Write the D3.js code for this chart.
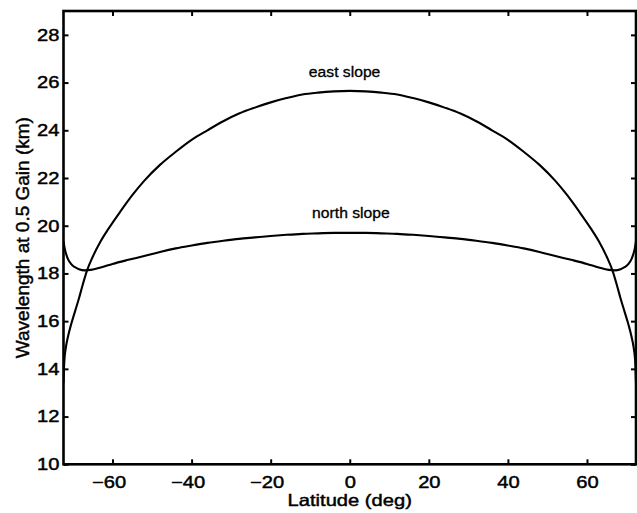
<!DOCTYPE html>
<html>
<head>
<meta charset="utf-8">
<script src="https://cdn.jsdelivr.net/npm/d3@7"></script>
<style>
  html, body { margin: 0; padding: 0; background: #fff; }
  svg { display: block; font-family: "Liberation Sans", Arial, Helvetica, sans-serif; }
  svg text { stroke: #000; stroke-width: 0.45px; }
</style>
</head>
<body>
<svg id="chart" width="637" height="513"></svg>
<script>
// Latitude (deg) and wavelength at 0.5 gain (km) for the east-slope case
const latEast = [-72.4, -72.2, -71.8, -71.2, -70.5, -69.5, -68.5, -67.5, -66.5, -65, -63, -61, -58, -55, -52, -48, -44, -40, -36, -32, -28, -24, -20, -16, -12, -8, -4, 0,
                 4, 8, 12, 16, 20, 24, 28, 32, 36, 40, 44, 48, 52, 55, 58, 61, 63, 65, 66.5, 67.5, 68.5, 69.5, 70.5, 71.2, 71.8, 72.2, 72.4];
const eastSlope = [13.4, 14.3, 14.9, 15.4, 15.85, 16.4, 16.95, 17.55, 18.1, 18.7, 19.35, 19.88, 20.6, 21.28, 21.88, 22.55, 23.1, 23.6, 24.0, 24.38, 24.7, 24.95, 25.17, 25.35, 25.5, 25.58, 25.63, 25.65,
                   25.63, 25.58, 25.5, 25.35, 25.17, 24.95, 24.7, 24.38, 24.0, 23.6, 23.1, 22.55, 21.88, 21.28, 20.6, 19.88, 19.35, 18.7, 18.1, 17.55, 16.95, 16.4, 15.85, 15.4, 14.9, 14.3, 13.4];

// Same quantity for the north-slope case
const latNorth = [-72.4, -72.1, -71.7, -71.2, -70.5, -69.5, -68.5, -67, -65.5, -63, -60, -56, -52, -48, -44, -40, -36, -32, -28, -24, -20, -16, -12, -8, -4, 0,
                  4, 8, 12, 16, 20, 24, 28, 32, 36, 40, 44, 48, 52, 56, 60, 63, 65.5, 67, 68.5, 69.5, 70.5, 71.2, 71.7, 72.1, 72.4];
const northSlope = [19.35, 19.05, 18.8, 18.58, 18.4, 18.26, 18.18, 18.13, 18.15, 18.25, 18.4, 18.57, 18.73, 18.9, 19.05, 19.17, 19.28, 19.37, 19.45, 19.51, 19.57, 19.62, 19.66, 19.68, 19.7, 19.7,
                    19.7, 19.68, 19.66, 19.62, 19.57, 19.51, 19.45, 19.37, 19.28, 19.17, 19.05, 18.9, 18.73, 18.57, 18.4, 18.25, 18.15, 18.13, 18.18, 18.26, 18.4, 18.58, 18.8, 19.05, 19.35];

const xTicks = [-60, -40, -20, 0, 20, 40, 60];
const yTicks = [10, 12, 14, 16, 18, 20, 22, 24, 26, 28];

const curveLabels = [
  { text: "east slope",  lat: -1.3, value: 26.22 },
  { text: "north slope", lat: 0.3,  value: 20.32 }
];

const svg = d3.select("#chart");
const plotLeft = 63.5, plotRight = 636, plotTop = 11, plotBottom = 464.3;

const x = d3.scaleLinear().domain([-72.4, 72.4]).range([plotLeft, plotRight]);
const y = d3.scaleLinear().domain([10, 29]).range([plotBottom, plotTop]);

// widen glyphs horizontally, like the original typeface
function stretch(sel, k) {
  sel.each(function () {
    const w = this.getComputedTextLength();
    d3.select(this).attr("textLength", w * k).attr("lengthAdjust", "spacingAndGlyphs");
  });
}

svg.append("defs").append("clipPath").attr("id", "plot")
  .append("rect").attr("x", plotLeft).attr("y", plotTop)
  .attr("width", plotRight - plotLeft).attr("height", plotBottom - plotTop);

// curves
const line = d3.line().curve(d3.curveMonotoneX);
const g = svg.append("g").attr("clip-path", "url(#plot)");
g.append("path")
  .attr("d", line(latEast.map((d, i) => [x(d), y(eastSlope[i])])))
  .attr("fill", "none").attr("stroke", "#000").attr("stroke-width", 2.1);
g.append("path")
  .attr("d", line(latNorth.map((d, i) => [x(d), y(northSlope[i])])))
  .attr("fill", "none").attr("stroke", "#000").attr("stroke-width", 2.1);

// axes with inward ticks on all four sides
const tickStyle = sel => {
  sel.select(".domain").remove();
  sel.selectAll(".tick line").attr("stroke", "#000").attr("stroke-width", 2);
  sel.selectAll(".tick text").attr("fill", "#000").style("font-size", "16.5px");
};

const gx = svg.append("g").attr("transform", `translate(0,${plotBottom})`)
  .call(d3.axisBottom(x).tickValues(xTicks).tickSizeInner(-5).tickSizeOuter(0).tickPadding(12))
  .call(tickStyle);
gx.selectAll(".tick text").filter(d => d < 0).attr("dx", -4);

svg.append("g").attr("transform", `translate(0,${plotTop})`)
  .call(d3.axisTop(x).tickValues(xTicks).tickSizeInner(-5).tickSizeOuter(0).tickFormat(""))
  .call(tickStyle);

const gy = svg.append("g").attr("transform", `translate(${plotLeft},0)`)
  .call(d3.axisLeft(y).tickValues(yTicks).tickSizeInner(-5).tickSizeOuter(0).tickPadding(4))
  .call(tickStyle);

svg.append("g").attr("transform", `translate(${plotRight},0)`)
  .call(d3.axisRight(y).tickValues(yTicks).tickSizeInner(-5).tickSizeOuter(0).tickFormat(""))
  .call(tickStyle);

// frame
svg.append("rect")
  .attr("x", plotLeft).attr("y", plotTop)
  .attr("width", plotRight - plotLeft).attr("height", plotBottom - plotTop)
  .attr("fill", "none").attr("stroke", "#000").attr("stroke-width", 2.6);

stretch(gx.selectAll(".tick text"), 1.22);
stretch(gy.selectAll(".tick text"), 1.22);

// axis titles
const xt = svg.append("text")
  .attr("x", x(0)).attr("y", 506).attr("text-anchor", "middle")
  .style("font-size", "16.5px").attr("fill", "#000")
  .text("Latitude (deg)");
stretch(xt, 1.22);

svg.append("text")
  .attr("transform", `translate(29,${(plotTop + plotBottom) / 2}) rotate(-90)`)
  .attr("text-anchor", "middle")
  .style("font-size", "19px").attr("fill", "#000")
  .text("Wavelength at 0.5 Gain (km)");

// curve annotations
const lab = svg.append("g").selectAll("text").data(curveLabels).join("text")
  .attr("x", d => x(d.lat)).attr("y", d => y(d.value))
  .attr("text-anchor", "middle")
  .style("font-size", "14px").attr("fill", "#000")
  .style("stroke-width", "0.3px")
  .text(d => d.text);
stretch(lab, 1.12);
</script>
</body>
</html>
